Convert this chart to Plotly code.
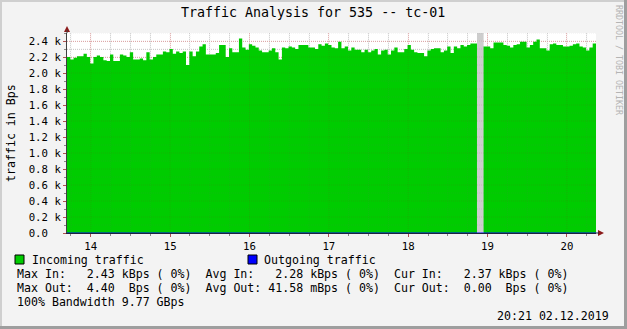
import datetime as dt
import plotly.graph_objects as go

# ---------------- data ----------------
start_time = dt.datetime(2019, 12, 2, 13, 42)
step_minutes = 2.5

incoming_kBps = [
    2.20, 2.17, 2.19, 2.21, 2.21, 2.24, 2.20, 2.12, 2.20, 2.22,
    2.20, 2.16, 2.15, 2.23, 2.15, 2.15, 2.23, 2.22, 2.20, 2.26,
    2.17, 2.17, 2.18, 2.16, 2.26, 2.17, 2.20, 2.23, 2.23, 2.27,
    2.26, 2.30, 2.24, 2.27, 2.25, 2.27, 2.10, 2.27, 2.21, 2.27,
    2.33, 2.36, 2.23, 2.23, 2.23, 2.25, 2.35, 2.35, 2.20, 2.31,
    2.26, 2.26, 2.43, 2.32, 2.29, 2.36, 2.34, 2.32, 2.28, 2.26,
    2.26, 2.28, 2.31, 2.26, 2.17, 2.32, 2.31, 2.33, 2.32, 2.30,
    2.35, 2.35, 2.35, 2.32, 2.32, 2.30, 2.36, 2.34, 2.37, 2.35,
    2.32, 2.31, 2.39, 2.31, 2.33, 2.28, 2.32, 2.29, 2.29, 2.26,
    2.29, 2.26, 2.28, 2.30, 2.23, 2.28, 2.29, 2.23, 2.28, 2.32,
    2.26, 2.26, 2.30, 2.35, 2.29, 2.26, 2.25, 2.25, 2.21, 2.28,
    2.30, 2.31, 2.31, 2.26, 2.28, 2.33, 2.25, 2.33, 2.31, 2.35,
    2.33, 2.35, 2.37, 2.37, None, None, 2.33, 2.33, 2.31, 2.38,
    2.38, 2.38, 2.35, 2.34, 2.32, 2.35, 2.36, 2.39, 2.39, 2.32,
    2.35, 2.39, 2.42, 2.31, 2.31, 2.28, 2.36, 2.37, 2.35, 2.35,
    2.33, 2.33, 2.34, 2.36, 2.37, 2.33, 2.32, 2.28, 2.32, 2.37,
]
outgoing_Bps = [0.0] * len(incoming_kBps)

y_tick_values = [0, 200, 400, 600, 800, 1000, 1200, 1400, 1600, 1800, 2000, 2200, 2400]
y_tick_labels = ["0.0  ", "0.2 k", "0.4 k", "0.6 k", "0.8 k", "1.0 k", "1.2 k",
                 "1.4 k", "1.6 k", "1.8 k", "2.0 k", "2.2 k", "2.4 k"]

title_text = "Traffic Analysis for 535 -- tc-01"
y_title = "traffic in Bps"
legend_in = "Incoming traffic"
legend_out = "Outgoing traffic"
stat_lines = [
    "Max In:   2.43 kBps ( 0%)  Avg In:   2.28 kBps ( 0%)  Cur In:   2.37 kBps ( 0%)",
    "Max Out:  4.40  Bps ( 0%)  Avg Out: 41.58 mBps ( 0%)  Cur Out:  0.00  Bps ( 0%)",
    "100% Bandwidth 9.77 GBps",
]
stamp = "20:21 02.12.2019"
watermark = "RRDTOOL / TOBI OETIKER"

# ---------------- derived ----------------
step = dt.timedelta(minutes=step_minutes)
n = len(incoming_kBps)
y_max = 2500
x_end = start_time + step * n

# step-area path for incoming (each sample holds for one step)
in_x, in_y = [], []
gap_x, gap_y = [], []
for i, v in enumerate(incoming_kBps):
    left, right = start_time + step * i, start_time + step * (i + 1)
    if v is None:
        in_x.append(left); in_y.append(None)
        gap_x += [left, right]; gap_y += [y_max, y_max]
    else:
        in_x += [left, right]; in_y += [v * 1000, v * 1000]
        gap_x.append(left); gap_y.append(None)
out_x = [start_time + step * i for i in range(n)] + [x_end]
out_y = outgoing_Bps + [outgoing_Bps[-1]]

W, H = 627, 329
L, R, T, B = 67, 596, 33, 233
MONO = "DejaVu Sans Mono"


def px(x):
    return (x - L) / (R - L)


def py(y):
    return (B - y) / (B - T)


def nb(s):
    return s.replace(" ", "\u00a0")


fig = go.Figure()
fig.add_trace(go.Scatter(x=in_x, y=in_y, mode="lines", line=dict(width=0, color="#00CC00"),
                         fill="tozeroy", fillcolor="#00CC00", connectgaps=False, hoverinfo="skip"))
fig.add_trace(go.Scatter(x=gap_x, y=gap_y, mode="lines", line=dict(width=0, color="#CDCDCD"),
                         fill="tozeroy", fillcolor="#CDCDCD", connectgaps=False, hoverinfo="skip"))
fig.add_trace(go.Scatter(x=out_x, y=out_y, mode="lines", line=dict(color="#0000FF", width=1, shape="hv"),
                         hoverinfo="skip"))

fig.update_layout(
    width=W, height=H,
    margin=dict(l=L, r=W - R, t=T, b=H - B, pad=0),
    paper_bgcolor="#F3F3F3",
    plot_bgcolor="#FFFFFF",
    showlegend=False,
    font=dict(family=MONO, size=10.7, color="#000000"),
)

major_grid_bg = "#E4B4B4"
minor_grid_bg = "#D4D4D4"
dots = "1px,1px"

fig.update_xaxes(
    type="date",
    range=[start_time, x_end],
    tick0="2019-12-02 14:00", dtick=3600000, tickformat="%H",
    showgrid=True, gridcolor=major_grid_bg, griddash=dots, gridwidth=1,
    minor=dict(dtick=900000, tick0="2019-12-02 14:00", showgrid=True, gridcolor=minor_grid_bg,
               griddash=dots, ticks="outside", ticklen=2, tickcolor="#888"),
    ticks="outside", ticklen=3, tickcolor="#B05050",
    showline=True, linecolor="#202040", linewidth=1,
    tickfont=dict(family=MONO, size=10.7, color="#000"),
    zeroline=False, fixedrange=True,
)
fig.update_yaxes(
    range=[0, y_max],
    tickvals=y_tick_values, ticktext=[nb(t) for t in y_tick_labels],
    showgrid=True, gridcolor=major_grid_bg, griddash=dots, gridwidth=1,
    minor=dict(dtick=100, tick0=0, showgrid=True, gridcolor=minor_grid_bg, griddash=dots,
               ticks="outside", ticklen=2, tickcolor="#888"),
    ticks="outside", ticklen=3, tickcolor="#B05050",
    showline=True, linecolor="#404040", linewidth=1,
    tickfont=dict(family=MONO, size=10.7, color="#000"),
    zeroline=False, fixedrange=True,
)

# faint grid drawn over the filled area, like rrdtool
major_grid_fg = "rgba(150,35,35,0.13)"
minor_grid_fg = "rgba(110,110,110,0.12)"

shapes = []
hour0 = dt.datetime(2019, 12, 2, 14, 0)
t = hour0 - dt.timedelta(minutes=15)
while t <= x_end:
    if t > start_time:
        major = (t.minute == 0)
        shapes.append(dict(type="line", xref="x", yref="paper", x0=t, x1=t, y0=0, y1=1,
                           line=dict(color=major_grid_fg if major else minor_grid_fg, width=1, dash=dots),
                           layer="above"))
    t += dt.timedelta(minutes=15)
for yv in range(100, y_max + 1, 100):
    major = (yv % 200 == 0)
    shapes.append(dict(type="line", xref="paper", yref="y", x0=0, x1=1, y0=yv, y1=yv,
                       line=dict(color=major_grid_fg if major else minor_grid_fg, width=1, dash=dots),
                       layer="above"))

# frame shading
shapes.append(dict(type="rect", xref="paper", yref="paper", x0=px(0), x1=px(2), y0=py(H), y1=py(0),
                   fillcolor="#CFCFCF", line=dict(width=0), layer="above"))
shapes.append(dict(type="rect", xref="paper", yref="paper", x0=px(0), x1=px(W), y0=py(2), y1=py(0),
                   fillcolor="#CFCFCF", line=dict(width=0), layer="above"))
shapes.append(dict(type="rect", xref="paper", yref="paper", x0=px(W - 3), x1=px(W), y0=py(H), y1=py(0),
                   fillcolor="#9E9E9E", line=dict(width=0), layer="above"))
shapes.append(dict(type="rect", xref="paper", yref="paper", x0=px(0), x1=px(W), y0=py(H), y1=py(H - 3),
                   fillcolor="#9E9E9E", line=dict(width=0), layer="above"))
# axis arrows
arrow_c = "#8B1A1A"
shapes.append(dict(type="path", xref="paper", yref="paper",
                   path=f"M {px(64)} {py(32)} L {px(70)} {py(32)} L {px(67)} {py(26)} Z",
                   fillcolor=arrow_c, line=dict(width=0), layer="above"))
shapes.append(dict(type="line", xref="paper", yref="paper", x0=px(67), x1=px(67), y0=py(33), y1=py(30),
                   line=dict(color="#404040", width=1), layer="above"))
shapes.append(dict(type="path", xref="paper", yref="paper",
                   path=f"M {px(598)} {py(230)} L {px(598)} {py(236)} L {px(604)} {py(233)} Z",
                   fillcolor=arrow_c, line=dict(width=0), layer="above"))
shapes.append(dict(type="line", xref="paper", yref="paper", x0=px(596), x1=px(599), y0=py(233), y1=py(233),
                   line=dict(color="#202040", width=1), layer="above"))
# legend swatches
shapes.append(dict(type="rect", xref="paper", yref="paper", x0=px(15), x1=px(24), y0=py(264), y1=py(255),
                   fillcolor="#00CC00", line=dict(color="#000", width=1), layer="above"))
shapes.append(dict(type="rect", xref="paper", yref="paper", x0=px(248), x1=px(257), y0=py(264), y1=py(255),
                   fillcolor="#0000FF", line=dict(color="#000", width=1), layer="above"))
fig.update_layout(shapes=shapes)

ann = []


def text(x, y, s, size=11.6, xanchor="left", color="#000", angle=0):
    ann.append(dict(xref="paper", yref="paper", x=px(x), y=py(y), text=nb(s), showarrow=False,
                    xanchor=xanchor, yanchor="middle", textangle=angle,
                    font=dict(family=MONO, size=size, color=color)))


text(313, 13, title_text, size=13.3, xanchor="center")
text(11, 133, y_title, size=11.6, xanchor="center", angle=-90)
text(619, 60, watermark, size=8.3, xanchor="center", color="#B4B4B4", angle=90)
text(30, 259.5, legend_in)
text(262, 259.5, legend_out)
for k, line in enumerate(stat_lines):
    text(15, 273.5 + 14 * k, line)
text(611, 315.5, stamp, xanchor="right")
fig.update_layout(annotations=ann)

fig.write_html("out.html")
